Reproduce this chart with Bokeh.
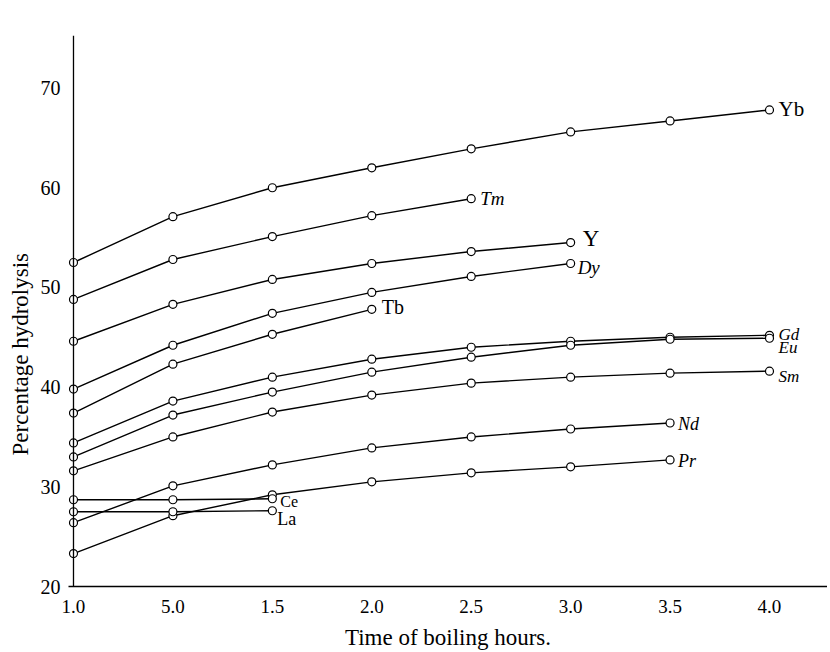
from bokeh.plotting import figure
from bokeh.models import Range1d, FixedTicker, Span, Label, Title
from bokeh.embed import file_html
from bokeh.resources import INLINE

# ---- data ----
hours = [0.5, 1.0, 1.5, 2.0, 2.5, 3.0, 3.5, 4.0]
hour_labels = ["1.0", "5.0", "1.5", "2.0", "2.5", "3.0", "3.5", "4.0"]
y_ticks = [20, 30, 40, 50, 60, 70]

yb = [52.5, 57.1, 60.0, 62.0, 63.9, 65.6, 66.7, 67.8]
tm = [48.8, 52.8, 55.1, 57.2, 58.9]
yt = [44.6, 48.3, 50.8, 52.4, 53.6, 54.5]
dy = [39.8, 44.2, 47.4, 49.5, 51.1, 52.4]
tb = [37.4, 42.3, 45.3, 47.8]
gd = [34.4, 38.6, 41.0, 42.8, 44.0, 44.6, 45.0, 45.2]
eu = [33.0, 37.2, 39.5, 41.5, 43.0, 44.2, 44.8, 44.9]
sm = [31.6, 35.0, 37.5, 39.2, 40.4, 41.0, 41.4, 41.6]
nd = [26.4, 30.1, 32.2, 33.9, 35.0, 35.8, 36.4]
pr = [23.3, 27.1, 29.2, 30.5, 31.4, 32.0, 32.7]
ce = [28.7, 28.7, 28.8]
la = [27.5, 27.5, 27.6]

series_names = ["Yb", "Tm", "Y", "Dy", "Tb", "Gd", "Eu", "Sm", "Nd", "Pr", "Ce", "La"]
series_values = [yb, tm, yt, dy, tb, gd, eu, sm, nd, pr, ce, la]

# label styling (offsets in screen px, font size, style)
label_style = {
    "Yb": (9, 1, "21px", "normal"),
    "Tm": (9, 0, "19px", "italic"),
    "Y": (12, 4, "23px", "normal"),
    "Dy": (7, -4, "19px", "italic"),
    "Tb": (10, 2, "20px", "normal"),
    "Gd": (9, 1, "17px", "italic"),
    "Eu": (9, -9, "17px", "italic"),
    "Sm": (9, -5, "17px", "italic"),
    "Nd": (8, -1, "18px", "italic"),
    "Pr": (8, -1, "18px", "italic"),
    "Ce": (8, -3, "16px", "normal"),
    "La": (5, -8, "18px", "normal"),
}

SERIF = "Liberation Serif"
y_title = "Percentage hydrolysis"
x_title = "Time of boiling hours."

p = figure(
    frame_width=759, frame_height=551,
    min_border_top=35, min_border_left=66, min_border_right=0, min_border_bottom=0,
    x_range=Range1d(0.4749, 4.2917), y_range=Range1d(20, 75.27),
    output_backend="svg", toolbar_location=None,
    background_fill_color="white", border_fill_color="white",
)
p.outline_line_color = None
p.xgrid.visible = False
p.ygrid.visible = False

# x axis
p.xaxis.ticker = FixedTicker(ticks=hours)
p.xaxis.major_label_overrides = {h: lab for h, lab in zip(hours, hour_labels)}
p.xaxis.axis_label = x_title
p.xaxis.axis_line_color = "black"
p.xaxis.axis_line_width = 1.6
p.xaxis.major_tick_line_color = None
p.xaxis.minor_tick_line_color = None
p.xaxis.major_label_standoff = 7
p.xaxis.axis_label_standoff = 9
p.xaxis.major_label_text_font = SERIF
p.xaxis.major_label_text_font_size = "19px"
p.xaxis.major_label_text_color = "black"
p.xaxis.axis_label_text_font = SERIF
p.xaxis.axis_label_text_font_size = "23px"
p.xaxis.axis_label_text_font_style = "normal"
p.xaxis.axis_label_text_color = "black"

# y axis
p.yaxis.ticker = FixedTicker(ticks=y_ticks)
p.yaxis.axis_line_color = None
p.yaxis.major_tick_line_color = None
p.yaxis.minor_tick_line_color = None
p.yaxis.major_label_standoff = 2
p.yaxis.major_label_text_font = SERIF
p.yaxis.major_label_text_font_size = "20px"
p.yaxis.major_label_text_color = "black"

# y-axis title as a side-panel title so it can be shifted along the axis
p.add_layout(Title(text=y_title, align="left", offset=131, standoff=10,
                   text_font=SERIF, text_font_size="23px", text_font_style="normal",
                   text_color="black"), "left")

# vertical axis line through the first time column
p.add_layout(Span(location=hours[0], dimension="height", line_color="black", line_width=1.3))

for name, vals in zip(series_names, series_values):
    xs = hours[:len(vals)]
    p.line(xs, vals, line_color="black", line_width=1.4)
    p.scatter(xs, vals, marker="circle", size=8, fill_color="white",
              line_color="black", line_width=1.2)
    dx, dyo, fs, st = label_style[name]
    p.add_layout(Label(x=xs[-1], y=vals[-1], text=name, x_offset=dx, y_offset=dyo,
                       text_font=SERIF, text_font_size=fs, text_font_style=st,
                       text_color="black", text_baseline="middle", text_align="left"))

open("out.html", "w").write(file_html(p, INLINE))
